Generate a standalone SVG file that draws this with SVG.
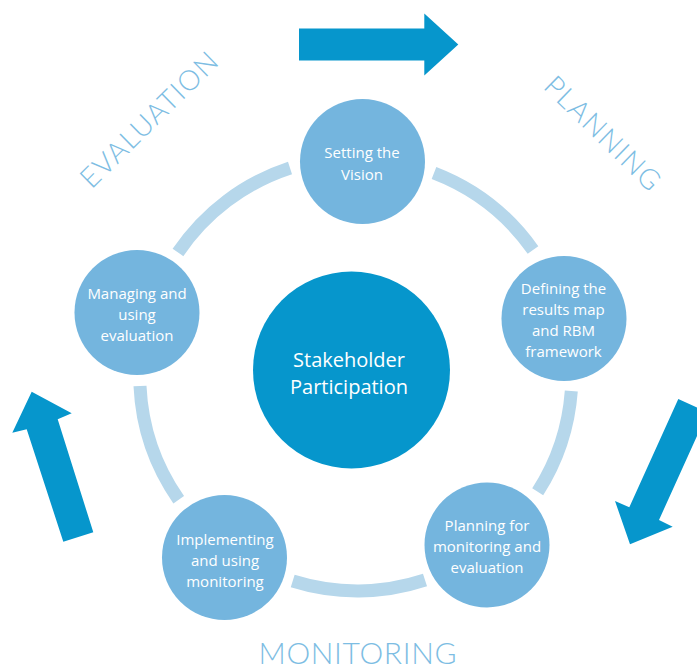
<svg xmlns="http://www.w3.org/2000/svg" width="697" height="669" viewBox="0 0 697 669">
<style>
.ring{fill:none;stroke:#b6d7eb;stroke-width:13;stroke-linecap:butt}
.node{fill:#74b5de}
.hub{fill:#0696cc}
.arrow{fill:#0696cc}
.nt{font-family:"Open Sans","Noto Sans","DejaVu Sans",sans-serif;font-size:15px;fill:#ffffff;text-anchor:middle}
.ht{font-family:"Open Sans","Noto Sans","DejaVu Sans",sans-serif;font-size:20px;fill:#ffffff;text-anchor:middle}
.phase{font-family:"Lato","Open Sans","DejaVu Sans",sans-serif;font-weight:300;fill:#7dbde3;text-anchor:middle}
</style>
<rect width="697" height="669" fill="#ffffff"/>

<g id="connectors">
<path class="ring" d="M434,173 A216,216 0 0 1 533,250"/>
<path class="ring" d="M571.3,391 A216,216 0 0 1 537.7,491.8"/>
<path class="ring" d="M425,580 A216,216 0 0 1 292.7,581"/>
<path class="ring" d="M178.7,499.7 A216,216 0 0 1 140,386"/>
<path class="ring" d="M178,252.5 A216,216 0 0 1 290,168"/>
</g>

<g id="arrows">
<polygon class="arrow" points="299,28.5 424.3,28.5 424.3,13.5 458.3,44.5 424.3,75.5 424.3,60.5 299,60.5"/>
<polygon class="arrow" points="678.3,399 707.7,412.3 659,520 672.7,526.7 630,544.3 615,501 629.3,507.3"/>
<polygon class="arrow" points="31.7,391.7 71.7,413.3 57.7,419.3 93.3,532.3 63.3,541.7 26.7,429.3 12.3,432.7"/>
</g>

<g id="labels">
<text class="phase" font-size="28" transform="translate(155.8,126.7) rotate(-44.5)" textLength="180" lengthAdjust="spacing">EVALUATION</text>
<text class="phase" font-size="28" transform="translate(595.9,140.2) rotate(44.3)" textLength="150" lengthAdjust="spacing">PLANNING</text>
<text class="phase" font-size="30" x="357.5" y="663.5" textLength="198" lengthAdjust="spacing">MONITORING</text>
</g>

<g id="hub">
<circle class="hub" cx="351.5" cy="370" r="98.5"/>
<text class="ht" x="349" y="367.3">Stakeholder</text>
<text class="ht" x="349" y="393.5">Participation</text>
</g>

<g id="node-vision">
<circle class="node" cx="362.5" cy="161.5" r="62.5"/>
<text class="nt" x="362" y="158">Setting the</text>
<text class="nt" x="362" y="180">Vision</text>
</g>

<g id="node-defining">
<circle class="node" cx="564" cy="318.5" r="62.5"/>
<text class="nt" x="563.5" y="293.5">Defining the</text>
<text class="nt" x="563.5" y="314.5">results map</text>
<text class="nt" x="563.5" y="335.5">and RBM</text>
<text class="nt" x="563.5" y="356.5">framework</text>
</g>

<g id="node-planning">
<circle class="node" cx="487" cy="545" r="62.5"/>
<text class="nt" x="487" y="531">Planning for</text>
<text class="nt" x="487" y="552">monitoring and</text>
<text class="nt" x="487" y="573">evaluation</text>
</g>

<g id="node-implementing">
<circle class="node" cx="224.5" cy="557.5" r="62.5"/>
<text class="nt" x="225" y="544.5">Implementing</text>
<text class="nt" x="225" y="565.5">and using</text>
<text class="nt" x="225" y="586.5">monitoring</text>
</g>

<g id="node-managing">
<circle class="node" cx="137" cy="312.5" r="62.5"/>
<text class="nt" x="137" y="299">Managing and</text>
<text class="nt" x="137" y="320">using</text>
<text class="nt" x="137" y="341">evaluation</text>
</g>
</svg>
